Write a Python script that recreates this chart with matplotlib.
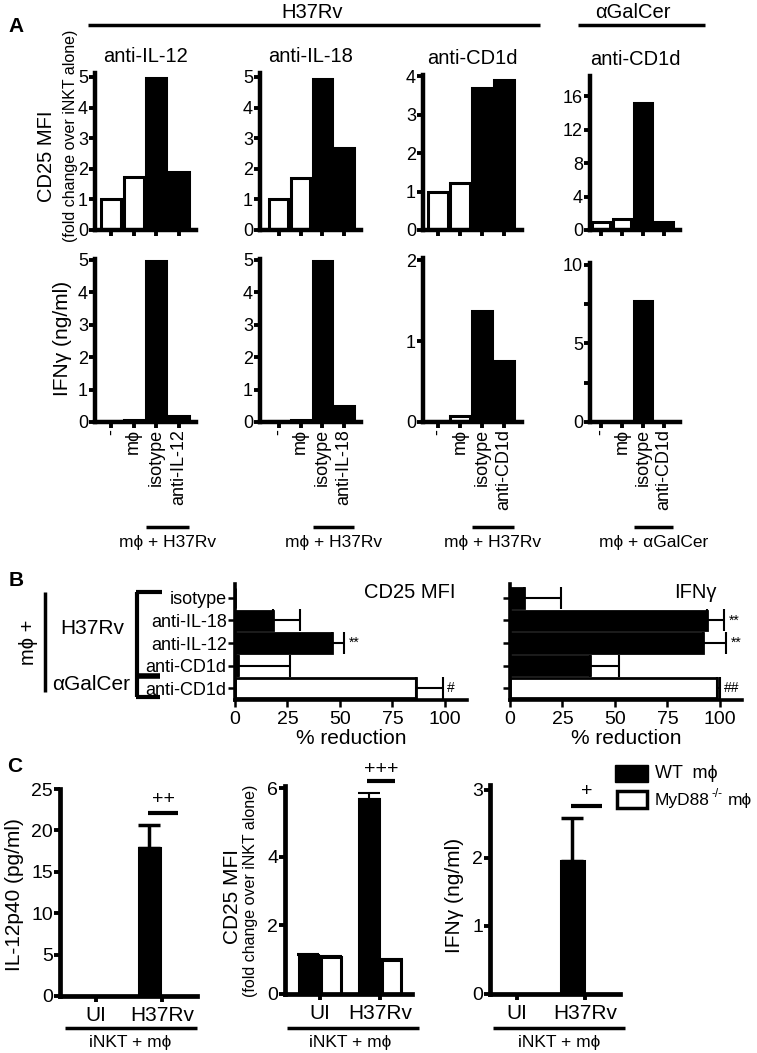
import numpy as np
import matplotlib
matplotlib.use('Agg')
import matplotlib.pyplot as plt
from matplotlib import font_manager
from matplotlib.lines import Line2D
from matplotlib.patches import Rectangle
from matplotlib.transforms import blended_transform_factory

W, H = 757, 1053
names = {f.name for f in font_manager.fontManager.ttflist}
BASE = 'Liberation Sans' if 'Liberation Sans' in names else 'DejaVu Sans'
plt.rcParams['font.family'] = [BASE, 'DejaVu Sans']
plt.rcParams['mathtext.default'] = 'regular'

# ---------------- data ----------------
# panel A: CD25 (top row) and IFNg (bottom row) for four blocking experiments
a_titles = ['anti-IL-12', 'anti-IL-18', 'anti-CD1d', 'anti-CD1d']
a_labels = [['-', 'mϕ', 'isotype', 'anti-IL-12'],
            ['-', 'mϕ', 'isotype', 'anti-IL-18'],
            ['-', 'mϕ', 'isotype', 'anti-CD1d'],
            ['-', 'mϕ', 'isotype', 'anti-CD1d']]
a_stim = ['mϕ + H37Rv', 'mϕ + H37Rv', 'mϕ + H37Rv', 'mϕ + αGalCer']
a_cd25 = [[1.0, 1.72, 4.97, 1.9],
          [1.0, 1.69, 4.93, 2.67],
          [0.98, 1.21, 3.7, 3.89],
          [0.9, 1.3, 15.2, 1.0]]
a_ifng = [[0.03, 0.07, 4.95, 0.17],
          [0.03, 0.06, 4.97, 0.5],
          [0.01, 0.07, 1.38, 0.75],
          [0.0, 0.0, 7.7, 0.0]]
a_cd25_ticks = [[0, 1, 2, 3, 4, 5], [0, 1, 2, 3, 4, 5], [0, 1, 2, 3, 4], [0, 4, 8, 12, 16]]
a_ifng_ticks = [[0, 1, 2, 3, 4, 5], [0, 1, 2, 3, 4, 5], [0, 1, 2], [0, 2.5, 5, 7.5, 10]]
a_ifng_ticklabels = [['0', '1', '2', '3', '4', '5'], ['0', '1', '2', '3', '4', '5'],
                     ['0', '1', '2'], ['0', '', '5', '', '10']]

# panel B: % reduction
b_rows = ['isotype', 'anti-IL-18', 'anti-IL-12', 'anti-CD1d', 'anti-CD1d']
b_hollow = [False, False, False, False, True]
b_cd25 = [0, 18, 46, 1.5, 86]
b_cd25_err = [0, 13, 6, 24.5, 13]
b_cd25_sig = ['', '', '**', '', '#']
b_ifng = [6.5, 94, 92, 38, 98.5]
b_ifng_err = [18, 8, 11, 14, 1.5]
b_ifng_sig = ['', '**', '**', '', '##']

# panel C: WT vs MyD88-/- macrophages
c_groups = ['UI', 'H37Rv']
c_il12_wt, c_il12_wt_err = [0, 17.9], [0, 2.7]
c_il12_ko, c_il12_ko_err = [0, 0], [0, 0]
c_cd25_wt, c_cd25_wt_err = [1.13, 5.69], [0.03, 0.18]
c_cd25_ko, c_cd25_ko_err = [1.08, 0.99], [0.03, 0.03]
c_ifng_wt, c_ifng_wt_err = [0, 1.96], [0, 0.62]
c_ifng_ko, c_ifng_ko_err = [0, 0], [0, 0]
c_sig = ['++', '+++', '+']

# ---------------- helpers ----------------
fig = plt.figure(figsize=(W / 100, H / 100), dpi=100)


def px_axes(x0, y0, x1, y1):
    return fig.add_axes([x0 / W, 1 - y1 / H, (x1 - x0) / W, (y1 - y0) / H])


def fig_line(x0, y0, x1, y1, lw=2.5):
    fig.add_artist(Line2D([x0 / W, x1 / W], [1 - y0 / H, 1 - y1 / H], color='black',
                          lw=lw, transform=fig.transFigure, solid_capstyle='butt'))


def fig_text(x, y, s, **kw):
    kw.setdefault('ha', 'center')
    kw.setdefault('va', 'center')
    fig.text(x / W, 1 - y / H, s, **kw)


def style(ax, lw=3.2, tl=4, tw=2.8):
    for s in ['top', 'right']:
        ax.spines[s].set_visible(False)
    for s in ['left', 'bottom']:
        ax.spines[s].set_linewidth(lw)
    ax.tick_params(direction='out', length=tl, width=tw, labelsize=13, pad=1)


# ---------------- panel A ----------------
a_left = [95, 260, 423, 590]
a_right = [196, 361, 522, 680]
a_xlim = [(-0.72, 3.76), (-0.87, 3.78), (-0.68, 3.82), (-0.52, 3.76)]
a_top1 = [(73, 5.13), (73, 5.13), (75, 4.03), (76, 18.4)]
a_top2 = [(259, 5.02), (259, 5.02), (258, 2.03), (263, 10.1)]

for i in range(4):
    colors = ['white', 'white', 'black', 'black']
    x = np.arange(4)
    # top row
    ax = px_axes(a_left[i], a_top1[i][0], a_right[i], 230)
    ax.bar(x, a_cd25[i], width=0.88, color=colors, edgecolor='black', lw=2.2)
    ax.set_xlim(*a_xlim[i])
    ax.set_ylim(0, a_top1[i][1])
    ax.set_yticks(a_cd25_ticks[i])
    ax.set_xticks(x)
    ax.set_xticklabels([])
    style(ax)
    ax.set_title(a_titles[i], fontsize=14.5, pad=8)
    # bottom row
    ax2 = px_axes(a_left[i], a_top2[i][0], a_right[i], 422)
    ax2.bar(x, a_ifng[i], width=0.88, color=colors, edgecolor='black', lw=2.2)
    ax2.set_xlim(*a_xlim[i])
    ax2.set_ylim(0, a_top2[i][1])
    ax2.set_yticks(a_ifng_ticks[i])
    ax2.set_yticklabels(a_ifng_ticklabels[i])
    ax2.set_xticks(x)
    ax2.set_xticklabels(a_labels[i], rotation=90, fontsize=14.5, va='top', ha='center')
    style(ax2)
    # stimulation bracket below labels
    tr = blended_transform_factory(ax2.transData, fig.transFigure)
    ax2.plot([2 - 0.45, 3 + 0.45], [1 - 527 / H] * 2, color='black', lw=2.5,
             transform=tr, clip_on=False, solid_capstyle='butt')
    ax2.text(2.5, 1 - 543 / H, a_stim[i], transform=tr, ha='center', va='center', fontsize=12.5)

fig_text(46, 156, 'CD25 MFI', rotation=90, fontsize=14.5)
fig_text(70, 136, '(fold change over iNKT alone)', rotation=90, fontsize=11.5)
fig_text(62, 338, 'IFNγ (ng/ml)', rotation=90, fontsize=15)
fig_text(16, 27, 'A', fontsize=15, fontweight='bold')
fig_text(312, 13, 'H37Rv', fontsize=14.5)
fig_line(88, 25, 540, 25, lw=2.5)
fig_text(633, 13, 'αGalCer', fontsize=14.5)
fig_line(578, 25, 705, 25, lw=2.5)

# ---------------- panel B ----------------
b_boxes = [(235, 467), (510, 742)]
b_data = [(b_cd25, b_cd25_err, b_cd25_sig, 'CD25 MFI', 455),
          (b_ifng, b_ifng_err, b_ifng_sig, 'IFNγ', 717)]
y = np.arange(len(b_rows))
for j, (x0, x1) in enumerate(b_boxes):
    vals, errs, sigs, title, tx = b_data[j]
    ax = px_axes(x0, 584, x1, 700)
    ax.barh(y, vals, height=0.85, color=['white' if h else 'black' for h in b_hollow],
            edgecolor='black', lw=2)
    keep = [k for k in range(len(vals)) if errs[k] > 0]
    ax.errorbar([vals[k] for k in keep], [y[k] for k in keep],
                xerr=[[0] * len(keep), [errs[k] for k in keep]], fmt='none',
                ecolor='black', elinewidth=1.5, capsize=8, capthick=1.5)
    for k in range(len(vals)):
        if sigs[k]:
            ax.text(vals[k] + errs[k] + 2, y[k], sigs[k], va='center', ha='left', fontsize=10)
    ax.set_xlim(0, 110.5)
    ax.set_ylim(4.53, -0.62)
    ax.set_xticks([0, 25, 50, 75, 100])
    ax.set_yticks(y)
    if j == 0:
        ax.set_yticklabels(b_rows, fontsize=13.5)
    else:
        ax.set_yticklabels([])
    style(ax, lw=2.6, tl=5, tw=1.8)
    ax.tick_params(axis='x', labelsize=14, pad=3)
    ax.set_xlabel('% reduction', fontsize=15, labelpad=1)
    fig_text(tx, 593, title, ha='right', fontsize=14.5)

fig_text(16, 580, 'B', fontsize=15, fontweight='bold')
fig_text(28, 642, 'mϕ +', rotation=90, fontsize=14.5)
fig_line(45, 592, 45, 692, lw=2.5)
fig_text(92, 628, 'H37Rv', fontsize=15)
fig_text(91, 685, 'αGalCer', fontsize=15)
# brackets grouping the rows
fig_line(137, 592, 137, 697, lw=3)
fig_line(135.5, 592, 162, 592, lw=3)
fig_line(135.5, 676, 160, 676, lw=4)
fig_line(135.5, 697, 160, 697, lw=3)

# ---------------- panel C ----------------
c_boxes = [(60, 789, 197, 996), (285, 786, 412, 994), (490, 785, 620, 994)]
c_xlim = [(-0.545, 1.53), (-0.58, 1.53), (-0.4, 1.51)]
c_ylim = [25, 6.07, 3.07]
c_ticks = [[0, 5, 10, 15, 20, 25], [0, 2, 4, 6], [0, 1, 2, 3]]
c_sets = [(c_il12_wt, c_il12_wt_err, c_il12_ko, c_il12_ko_err),
          (c_cd25_wt, c_cd25_wt_err, c_cd25_ko, c_cd25_ko_err),
          (c_ifng_wt, c_ifng_wt_err, c_ifng_ko, c_ifng_ko_err)]
c_sig_y = [(22.1, 23.7), (6.22, 6.55), (2.76, 2.97)]
c_lines = [(65, 197, 130), (287, 419, 350), (493, 625, 559)]
gx = np.arange(len(c_groups))
off, bw = 0.19, 0.33
for i, (x0, y0, x1, y1) in enumerate(c_boxes):
    wt, wt_err, ko, ko_err = c_sets[i]
    ax = px_axes(x0, y0, x1, y1)
    ax.bar(gx - off, wt, width=bw, color='black', edgecolor='black', lw=2.2)
    ax.bar(gx + off, ko, width=bw, color='white', edgecolor='black', lw=2.2)
    for xs, v, e in [(gx - off, wt, wt_err), (gx + off, ko, ko_err)]:
        keep = [k for k in range(len(v)) if e[k] > 0]
        if keep:
            ax.errorbar([xs[k] for k in keep], [v[k] for k in keep],
                        yerr=[[0] * len(keep), [e[k] for k in keep]], fmt='none',
                        ecolor='black', elinewidth=2.5 if i != 1 else 1.5,
                        capsize=8, capthick=2.5 if i != 1 else 1.5)
    ax.set_xlim(*c_xlim[i])
    ax.set_ylim(0, c_ylim[i])
    ax.set_yticks(c_ticks[i])
    ax.set_xticks(gx)
    ax.set_xticklabels(c_groups)
    style(ax, lw=3.4)
    ax.tick_params(axis='x', pad=3, labelsize=15)
    ax.tick_params(axis='y', labelsize=14)
    ly, tyy = c_sig_y[i]
    ax.plot([1 - off - 0.02, 1 + off + 0.05], [ly, ly], color='black', lw=3, clip_on=False,
            solid_capstyle='butt')
    ax.text(1 + 0.02, tyy, c_sig[i], ha='center', va='center', fontsize=14)
    lx0, lx1, tx = c_lines[i]
    fig_line(lx0, 1028, lx1, 1028, lw=2.5)
    fig_text(tx, 1042, 'iNKT + mϕ', fontsize=12.5)

fig_text(15, 767, 'C', fontsize=15, fontweight='bold')
fig_text(15, 895, 'IL-12p40 (pg/ml)', rotation=90, fontsize=15)
fig_text(232, 897, 'CD25 MFI', rotation=90, fontsize=15)
fig_text(250, 891, '(fold change over iNKT alone)', rotation=90, fontsize=11.5)
fig_text(454, 895, 'IFNγ (ng/ml)', rotation=90, fontsize=15)

# legend
fig.add_artist(Rectangle((615 / W, 1 - 782 / H), 33 / W, 17 / H, facecolor='black',
                         edgecolor='black', lw=1, transform=fig.transFigure))
fig.add_artist(Rectangle((617 / W, 1 - 808 / H), 30 / W, 17 / H, facecolor='white',
                         edgecolor='black', lw=2.5, transform=fig.transFigure))
fig_text(655, 773, 'WT  mϕ', ha='left', fontsize=13)
fig_text(655, 800, 'MyD88', ha='left', fontsize=12.5)
fig_text(712, 794, '-/-', ha='left', fontsize=8.5)
fig_text(728, 800, 'mϕ', ha='left', fontsize=12.5)

fig.savefig('out.png', dpi=100)
